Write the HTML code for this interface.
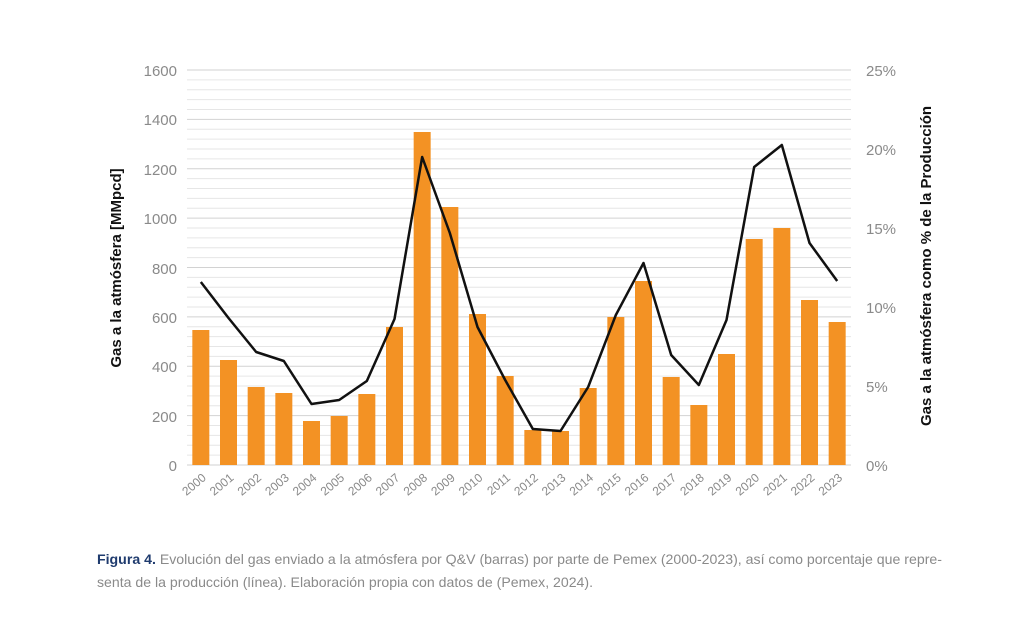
<!DOCTYPE html>
<html><head><meta charset="utf-8"><style>
body{margin:0;background:#fff;width:1024px;height:629px;overflow:hidden}
svg{display:block}
.t{font-family:"Liberation Sans",sans-serif}
</style></head><body>
<svg id="s" width="1024" height="629" xmlns="http://www.w3.org/2000/svg">
<g id="grid"></g><g id="bars"></g>
<polyline id="ln" fill="none" stroke="#111" stroke-width="2.5" stroke-linejoin="round"/>
<g class="t" fill="#8a8a8a" font-size="15" text-anchor="end">
<text x="177" y="76">1600</text><text x="177" y="125">1400</text><text x="177" y="175">1200</text>
<text x="177" y="224">1000</text><text x="177" y="274">800</text><text x="177" y="323">600</text>
<text x="177" y="372">400</text><text x="177" y="422">200</text><text x="177" y="471">0</text>
</g>
<g class="t" fill="#8a8a8a" font-size="15">
<text x="866" y="76">25%</text><text x="866" y="155">20%</text><text x="866" y="234">15%</text>
<text x="866" y="313">10%</text><text x="866" y="392">5%</text><text x="866" y="471">0%</text>
</g>
<text class="t" transform="translate(121,268) rotate(-90)" text-anchor="middle" font-size="15" font-weight="bold" fill="#111">Gas a la atmósfera [MMpcd]</text>
<text class="t" transform="translate(931,266) rotate(-90)" text-anchor="middle" font-size="15" font-weight="bold" fill="#111">Gas a la atmósfera como % de la Producción</text>
<g id="yrs" class="t" fill="#8a8a8a" font-size="12" text-anchor="end">
<text>2000</text><text>2001</text><text>2002</text><text>2003</text><text>2004</text><text>2005</text>
<text>2006</text><text>2007</text><text>2008</text><text>2009</text><text>2010</text><text>2011</text>
<text>2012</text><text>2013</text><text>2014</text><text>2015</text><text>2016</text><text>2017</text>
<text>2018</text><text>2019</text><text>2020</text><text>2021</text><text>2022</text><text>2023</text>
</g>
<text class="t" x="97" y="564" font-size="14" fill="#8a8a8a" textLength="845" lengthAdjust="spacingAndGlyphs"><tspan font-weight="bold" fill="#1f3b6e">Figura 4.</tspan> Evolución del gas enviado a la atmósfera por Q&amp;V (barras) por parte de Pemex (2000-2023), así como porcentaje que repre-</text>
<text class="t" x="97" y="587" font-size="14" fill="#8a8a8a" textLength="496" lengthAdjust="spacingAndGlyphs">senta de la producción (línea). Elaboración propia con datos de (Pemex, 2024).</text>
</svg>
<script>
var ns="http://www.w3.org/2000/svg",g=document.getElementById('grid'),b=document.getElementById('bars');
for(var i=0;i<=40;i++){var y=70+i*9.875,l=document.createElementNS(ns,'line');
l.setAttribute('x1',187);l.setAttribute('x2',851);l.setAttribute('y1',y);l.setAttribute('y2',y);
l.setAttribute('stroke',i%5==0?'#d2d2d2':'#e6e6e6');l.setAttribute('stroke-width',1);g.appendChild(l);}
var tops=[330,360,387,393,421,416,394,327,132,207,314,376,430,431,388,317,281,377,405,354,239,228,300,322];
var ly=[282,318,352,361,404,400,381,319,157,233,327,380,429,431,387,315,263,355,385,320,167,145,243,281];
var pts=[],yr=document.getElementById('yrs').children;
for(var k=0;k<24;k++){var cx=187+27.667*(k+0.5),r=document.createElementNS(ns,'rect');
r.setAttribute('x',cx-8.5);r.setAttribute('width',17);r.setAttribute('y',tops[k]);r.setAttribute('height',465-tops[k]);
r.setAttribute('fill','#f39224');b.appendChild(r);pts.push(cx+','+ly[k]);
yr[k].setAttribute('transform','translate('+(cx+6)+',479) rotate(-40)');}
document.getElementById('ln').setAttribute('points',pts.join(' '));
</script>
</body></html>
